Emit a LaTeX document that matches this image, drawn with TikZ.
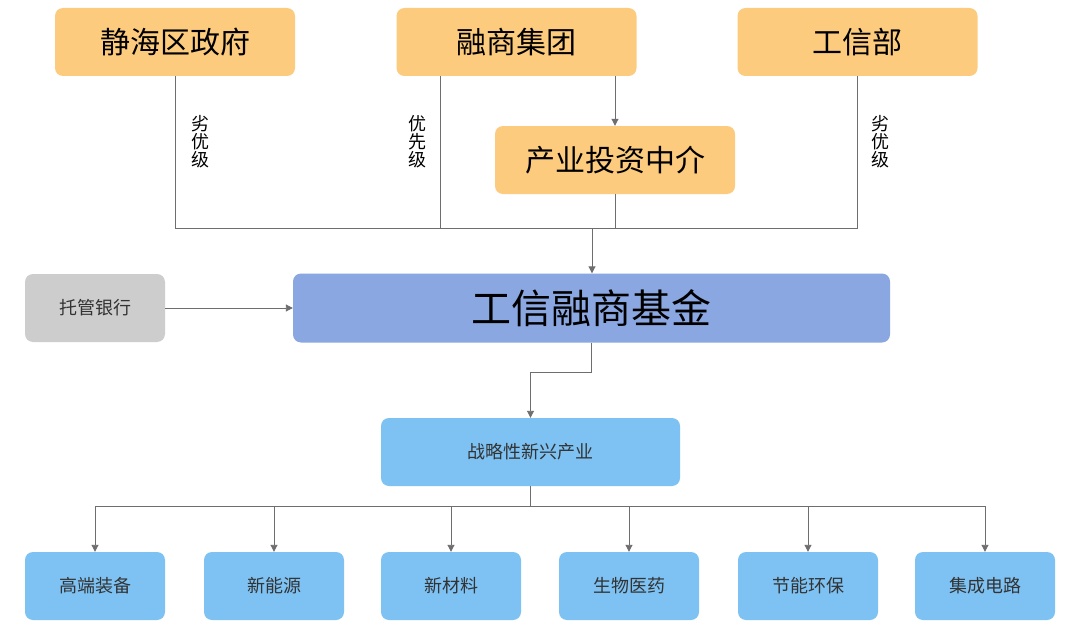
\documentclass[tikz,border=0pt]{standalone}
\usepackage{fontspec}
\newfontfamily\cjk{Noto Sans CJK SC}
\usetikzlibrary{arrows.meta}
\definecolor{orangebox}{HTML}{FDCB7D}
\definecolor{mainblue}{HTML}{8AA7E1}
\definecolor{lightblue}{HTML}{7DC2F3}
\definecolor{graybox}{HTML}{CDCDCD}
\definecolor{linegray}{HTML}{6E6E6E}
\definecolor{txtgray}{HTML}{333333}
\begin{document}
\begin{tikzpicture}[x=1pt,y=-1pt,
  box/.style={rounded corners=8pt, draw=none, inner sep=0pt, font=\cjk},
  topbox/.style={box, fill=orangebox, minimum width=240pt, minimum height=68pt, font=\cjk\fontsize{30}{32}\selectfont},
  smallbox/.style={box, fill=lightblue, minimum width=140pt, minimum height=68pt, text=txtgray, font=\cjk\fontsize{18}{20}\selectfont},
  conn/.style={draw=linegray, line width=0.9pt},
  arr/.style={conn, -{Triangle[width=7pt,length=7pt]}},
  vlabel/.style={inner sep=0pt, font=\cjk\fontsize{18}{18}\selectfont, align=center}
]
\useasboundingbox (0,0) rectangle (1080,626);
\fill[white] (0,0) rectangle (1080,626);
% top boxes
\node[topbox] (gov) at (175,42) {静海区政府};
\node[topbox] (rs) at (516.5,42) {融商集团};
\node[topbox] (gxb) at (857.5,42) {工信部};
\node[topbox] (zj) at (615,160) {产业投资中介};
% main fund
\node[box, fill=mainblue, minimum width=597pt, minimum height=69pt, font=\cjk\fontsize{40}{42}\selectfont] (fund) at (591.5,308) {工信融商基金};
\node[box, fill=graybox, minimum width=140pt, minimum height=68pt, text=txtgray, font=\cjk\fontsize{18}{20}\selectfont] (bank) at (95,308) {托管银行};
\node[smallbox, minimum width=299pt] (zl) at (530.5,452) {战略性新兴产业};
% bottom boxes
\node[smallbox] (b1) at (95,586) {高端装备};
\node[smallbox] (b2) at (274,586) {新能源};
\node[smallbox] (b3) at (451,586) {新材料};
\node[smallbox] (b4) at (629,586) {生物医药};
\node[smallbox] (b5) at (808,586) {节能环保};
\node[smallbox] (b6) at (985,586) {集成电路};
% coordinates
\coordinate (j) at (592,228);
\coordinate (jl) at (175,228);
\coordinate (jr) at (857,228);
% top connectors
\draw[arr] (rs.south -| zj.north) -- (zj.north);
\draw[conn] (gov.south) -- (jl) -- (jr) -- (gxb.south -| jr);
\draw[conn] (rs.south -| 440,0) -- (440,228);
\draw[conn] (zj.south) -- (zj.south |- j);
\draw[arr] (j) -- (fund.north -| j);
% labels
\node[vlabel] (l1) at (200,142) {劣\\优\\级};
\node[vlabel] (l2) at (417,142) {优\\先\\级};
\node[vlabel] (l3) at (880,142) {劣\\优\\级};
% bank
\draw[arr] (bank.east) -- (fund.west);
% fund to zl
\coordinate (m1) at (591.5,372);
\draw[arr] (fund.south -| m1) -- (m1) -- (530.5,372) -- (zl.north);
% zl to bottom
\coordinate (h) at (530.5,506);
\draw[conn] (zl.south) -- (h);
\draw[conn] (b1.north |- h) -- (b6.north |- h);
\foreach \b in {b1,b2,b3,b4,b5,b6} \draw[arr] (\b.north |- h) -- (\b.north);
\end{tikzpicture}
\end{document}
